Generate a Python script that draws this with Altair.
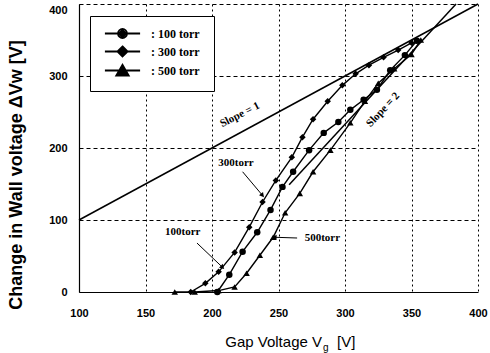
import altair as alt
import pandas as pd
import math

# ---------------- data ----------------
series_names = ["100 torr", "300 torr", "500 torr"]
v100_x = [204, 213, 223, 234, 244, 253, 261, 273, 284, 295, 304, 314, 324, 334, 345, 354]
v100_y = [0, 24, 56, 83, 114, 146, 167, 197, 221, 236, 253, 267, 281, 308, 329, 349]
v300_x = [184, 195, 205, 217, 228, 238, 248, 260, 268, 276, 287, 298, 308, 318, 329, 340, 350]
v300_y = [0, 12, 28, 55, 90, 125, 155, 187, 215, 240, 265, 287, 303, 315, 326, 336, 346]
v500_x = [172, 187, 205, 217, 226, 236, 246, 255, 266, 276, 289, 304, 315, 325, 337, 350, 357]
v500_y = [0, 0, 2, 7, 26, 51, 76, 110, 137, 167, 197, 235, 265, 290, 310, 330, 350]

slope1_x = [100, 400]
slope1_y = [100, 400]
slope2_x = [258, 383.5]
slope2_y = [149, 400]

x_ticks = [100, 150, 200, 250, 300, 350, 400]
y_ticks = [0, 100, 200, 300, 400]

note_text = ["Slope = 1", "Slope = 2", "300torr", "100torr", "500torr"]
note_x = [221, 328.6, 218, 178, 283]
note_y = [246, 253, 179, 83, 75]
note_angle = [333, 313, 0, 0, 0]

arrow_x = [223, 188.7, 264]
arrow_y = [167, 68, 75]
arrow_x2 = [237.6, 207.5, 247.4]
arrow_y2 = [135, 35, 76]

y_title = "Change in Wall   voltage   \u0394Vw [V]"

# ---------------- tables ----------------
rows = []
for name, xs, ys in zip(series_names, [v100_x, v300_x, v500_x], [v100_y, v300_y, v500_y]):
    for i, (a, b) in enumerate(zip(xs, ys)):
        rows.append({"series": name, "x": a, "y": b, "i": i})
curves = pd.DataFrame(rows)

refs = pd.DataFrame(
    [{"line": "s1", "x": a, "y": b} for a, b in zip(slope1_x, slope1_y)]
    + [{"line": "s2", "x": a, "y": b} for a, b in zip(slope2_x, slope2_y)]
)
notes = pd.DataFrame({"text": note_text, "x": note_x, "y": note_y, "angle": note_angle})

W, H = 399, 288
def px(v):
    return (v - 100) * W / 300.0
def py(v):
    return H - v * H / 400.0
angles = []
for a, b, c, d in zip(arrow_x, arrow_y, arrow_x2, arrow_y2):
    dx = px(c) - px(a)
    dy = py(d) - py(b)
    angles.append(math.degrees(math.atan2(dx, -dy)) % 360)
arrows = pd.DataFrame({"x": arrow_x, "y": arrow_y, "x2": arrow_x2, "y2": arrow_y2, "angle": angles})

# ---------------- encodings ----------------
xscale = alt.Scale(domain=[100, 400], nice=False, zero=False)
yscale = alt.Scale(domain=[0, 400], nice=False)
xaxis = alt.Axis(values=x_ticks, title=None, grid=True, gridDash=[2, 3], gridColor="black",
                 gridOpacity=1, gridWidth=1, ticks=False, domainColor="black", domainWidth=1.2,
                 labelFont="Liberation Sans", labelFontSize=11, labelFontWeight="bold",
                 labelColor="black", labelPadding=15, labelFlush=False)
yaxis = alt.Axis(values=y_ticks, title=None, grid=True,
                 gridDash=[4, 3], gridColor="black", gridOpacity=1, gridWidth=1, ticks=False,
                 domainColor="black", domainWidth=1.2,
                 labelFont="Liberation Sans", labelFontSize=11, labelFontWeight="bold",
                 labelColor="black", labelPadding=12,
                 labelBaseline={"condition": {"test": "datum.value >= 400", "value": "top"},
                                "value": "middle"})

def X(f="x"):
    return alt.X(f"{f}:Q", scale=xscale, axis=xaxis)
def Y(f="y"):
    return alt.Y(f"{f}:Q", scale=yscale, axis=yaxis)

ref_lines = alt.Chart(refs).mark_line(color="black", strokeWidth=1.5).encode(
    x=X(), y=Y(), detail="line:N"
)

curve_lines = alt.Chart(curves).mark_line(color="black", strokeWidth=1.4).encode(
    x=X(), y=Y(), detail="series:N", order="i:Q"
)

curve_points = alt.Chart(curves).mark_point(filled=True, color="black", opacity=1, size=42).encode(
    x=X(), y=Y(),
    shape=alt.Shape("series:N", scale=alt.Scale(domain=series_names,
                                                range=["circle", "diamond", "triangle-up"]),
                    legend=None),
)

def circ(r):
    return f"M{r},0A{r},{r},0,1,1,-{r},0A{r},{r},0,1,1,{r},0Z"
def diam(d):
    return f"M0,-{d}L{d},0L0,{d}L-{d},0Z"
def tri(s):
    c = 0.27
    return (f"M0,{c + s * (-1 - c):.3f}L{1.1 * s:.3f},{c + s * (0.9 - c):.3f}"
            f"L{-1.1 * s:.3f},{c + s * (0.9 - c):.3f}Z")
bar = "M-3.2,0L3.2,0"
legend_paths = [
    bar + circ(0.8) + circ(0.45) + circ(0.12),
    bar + diam(0.9) + diam(0.55) + diam(0.2),
    bar + tri(1) + tri(0.6) + tri(0.25),
]
legend_layer = alt.Chart(curves).mark_point(filled=False, color="black", opacity=0, size=10,
                                            strokeWidth=2).encode(
    x=X(), y=Y(),
    shape=alt.Shape("series:N", scale=alt.Scale(domain=series_names, range=legend_paths),
                    legend=alt.Legend(title=None, orient="none", legendX=11, legendY=12,
                                      strokeColor="black", fillColor="white", padding=11,
                                      symbolOffset=15, symbolSize=121, symbolOpacity=1,
                                      symbolStrokeColor="black", symbolStrokeWidth=2,
                                      rowPadding=0, labelOffset=22,
                                      labelFont="Liberation Serif", labelFontSize=12,
                                      labelFontWeight="bold", labelColor="black",
                                      labelExpr="':  ' + datum.label")),
)

note_layer = alt.Chart(notes).mark_text(font="Liberation Serif", fontSize=11, fontWeight="bold",
                                        color="black").encode(
    x=X(), y=Y(), text="text:N", angle=alt.Angle("angle:Q", scale=None)
)

arrow_lines = alt.Chart(arrows).mark_rule(color="black", strokeWidth=1).encode(
    x=X(), y=Y(), x2="x2:Q", y2="y2:Q"
)
arrow_heads = alt.Chart(arrows).mark_point(shape="triangle", filled=True, color="black",
                                           opacity=1, size=28).encode(
    x=X("x2"), y=Y("y2"), angle=alt.Angle("angle:Q", scale=None)
)

tdf = pd.DataFrame({"a": [0]})
xt1 = alt.Chart(tdf).mark_text(text="Gap Voltage V", align="right", baseline="alphabetic",
                               font="Liberation Sans", fontSize=15, color="black").encode(
    x=alt.value(243), y=alt.value(343))
xt2 = alt.Chart(tdf).mark_text(text="g", align="left", baseline="alphabetic",
                               font="Liberation Sans", fontSize=10, color="black").encode(
    x=alt.value(244), y=alt.value(347))
xt3 = alt.Chart(tdf).mark_text(text="[V]", align="left", baseline="alphabetic",
                               font="Liberation Sans", fontSize=15, color="black").encode(
    x=alt.value(258), y=alt.value(343))
yt = alt.Chart(tdf).mark_text(text=y_title, align="center", baseline="middle", angle=270,
                              font="Liberation Sans", fontSize=18, fontWeight="bold",
                              color="black").encode(
    x=alt.value(-62), y=alt.value(171))

chart = alt.layer(
    ref_lines, curve_lines, curve_points, legend_layer, note_layer, arrow_lines, arrow_heads,
    xt1, xt2, xt3, yt
).resolve_scale(shape="independent").properties(
    width=W, height=H,
    padding={"left": 79, "top": 4, "right": 12, "bottom": 61},
    autosize=alt.AutoSizeParams(type="none"),
    background="white",
).configure_view(stroke=None)

chart.save("out.html", embed_options={"renderer": "svg", "actions": False})
